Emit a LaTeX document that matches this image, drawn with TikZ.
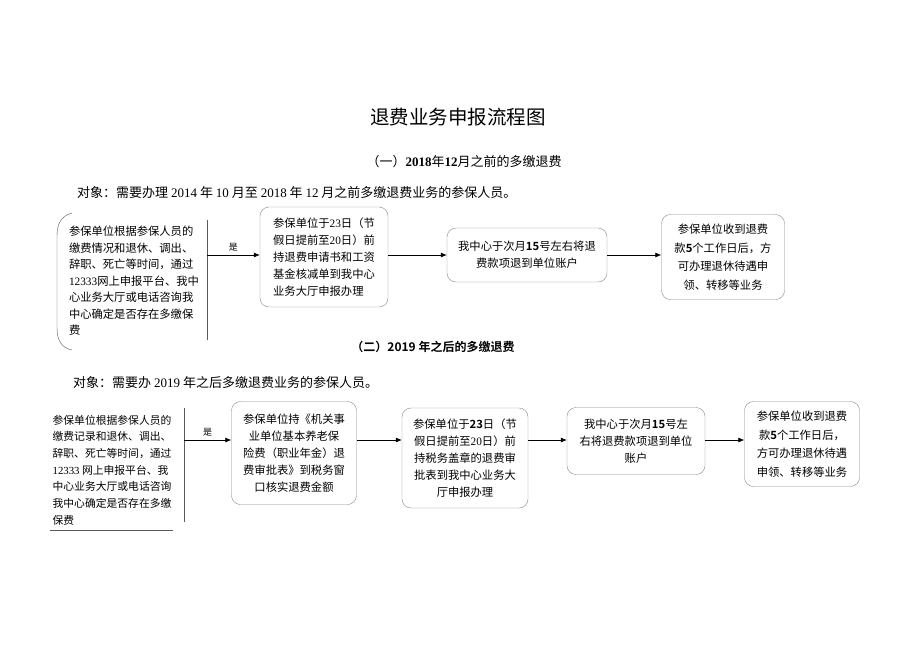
\documentclass[tikz,border=0pt]{standalone}
\usepackage{fontspec}
\setmainfont{Noto Sans CJK SC}[BoldFont={* Bold}]
\newfontfamily\latin{Liberation Serif}
\usetikzlibrary{arrows.meta}
\definecolor{boxgray}{RGB}{135,135,135}
\definecolor{linegray}{RGB}{90,90,90}

\begin{document}
\begin{tikzpicture}[x=1pt,y=-1pt,
    box/.style={draw=boxgray, rounded corners=9pt, inner sep=0pt, align=center,
                font=\fontsize{11.3}{17}\selectfont},
    plain/.style={inner sep=0pt, align=left, font=\fontsize{11.3}{16.5}\selectfont},
    head/.style={inner sep=0pt, font=\fontsize{13}{15}\selectfont},
    flow/.style={-{Latex[length=6pt,width=5pt]}, semithick},
    yes/.style={above=2pt, inner sep=1pt, font=\fontsize{9}{10}\selectfont},
    edge/.style={linegray, thin}]
  \useasboundingbox (0,0) rectangle (920,651);

  \node[font=\fontsize{19.5}{23}\selectfont] (title) at (458,117) {退费业务申报流程图};
  \node[head] (sub1) at (464,162) {（一）{\latin\bfseries 2018}年{\latin\bfseries 12}月之前的多缴退费};
  \node[head, anchor=west] (obj1) at (77,193) {对象：需要办理 {\latin 2014} 年 {\latin 10} 月至 {\latin 2018} 年 {\latin 12} 月之前多缴退费业务的参保人员。};

  \node[plain] (b1) at (134,281) {参保单位根据参保人员的\\缴费情况和退休、调出、\\辞职、死亡等时间，通过\\{\latin 12333}网上申报平台、我中\\心业务大厅或电话咨询我\\中心确定是否存在多缴保\\费};
  \draw[edge] (72,213) .. controls (61,216) and (57,224) .. (57,236) -- (57,328) .. controls (57,341) and (62,348) .. (72,350);
  \draw[edge] (207,220) -- (207,340);
  \coordinate (r1) at (207,255);
  \node[box, minimum width=128pt, minimum height=100pt, align=left] (b2) at (324,257) {参保单位于{\latin 23}日（节\\假日提前至{\latin 20}日）前\\持退费申请书和工资\\基金核减单到我中心\\业务大厅申报办理};
  \node[box, minimum width=160pt, minimum height=54pt] (b3) at (527,255) {我中心于次月\textbf{15}号左右将退\\费款项退到单位账户};
  \node[box, minimum width=123pt, minimum height=85pt, font=\fontsize{11.3}{18.6}\selectfont] (b4) at (723,257) {参保单位收到退费\\款\textbf{5}个工作日后，方\\可办理退休待遇申\\领、转移等业务};
  \draw[flow] (r1) -- node[yes] {是} (b2.west |- r1);
  \draw[flow] (b2.east |- r1) -- (b3.west |- r1);
  \draw[flow] (b3.east |- r1) -- (b4.west |- r1);

  \node[head, font=\bfseries\fontsize{12}{14}\selectfont] (sub2) at (433,347) {（二）2019 年之后的多缴退费};
  \node[head, anchor=west] (obj2) at (73,383) {对象：需要办 {\latin 2019} 年之后多缴退费业务的参保人员。};

  \node[plain, font=\fontsize{10.8}{16.7}\selectfont] (a1) at (112,470) {参保单位根据参保人员的\\缴费记录和退休、调出、\\辞职、死亡等时间，通过\\{\latin 12333} 网上申报平台、我\\中心业务大厅或电话咨询\\我中心确定是否存在多缴\\保费};
  \draw[edge] (184,408) -- (184,522);
  \draw[edge] (50,530) -- (173,530);
  \coordinate (r2) at (184,440);
  \node[box, minimum width=125pt, minimum height=103pt] (a2) at (294,453) {参保单位持《机关事\\业单位基本养老保\\险费（职业年金）退\\费审批表》到税务窗\\口核实退费金额};
  \node[box, minimum width=126pt, minimum height=100pt] (a3) at (465,458) {参保单位于\textbf{23}日（节\\假日提前至{\latin 20}日）前\\持税务盖章的退费审\\批表到我中心业务大\\厅申报办理};
  \node[box, minimum width=138pt, minimum height=67pt] (a4) at (636,441) {我中心于次月\textbf{15}号左\\右将退费款项退到单位\\账户};
  \node[box, minimum width=115pt, minimum height=85pt, font=\fontsize{11.3}{18.6}\selectfont] (a5) at (802,444) {参保单位收到退费\\款\textbf{5}个工作日后，\\方可办理退休待遇\\申领、转移等业务};
  \draw[flow] (r2) -- node[yes] {是} (a2.west |- r2);
  \draw[flow] (a2.east |- r2) -- (a3.west |- r2);
  \draw[flow] (a3.east |- r2) -- (a4.west |- r2);
  \draw[flow] (a4.east |- r2) -- (a5.west |- r2);
\end{tikzpicture}
\end{document}
